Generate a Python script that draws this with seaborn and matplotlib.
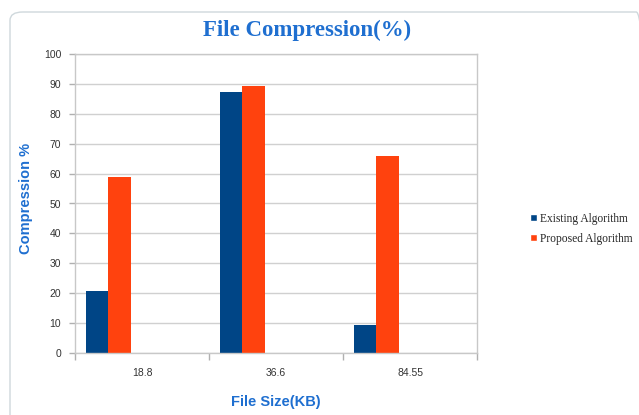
import pandas as pd
import numpy as np
import matplotlib.pyplot as plt
from matplotlib.patches import Patch, FancyBboxPatch
import seaborn as sns

# data
file_sizes = ['18.8', '36.6', '84.55']
existing = [20.9, 87.3, 9.2]
proposed = [58.7, 89.2, 66.0]
series = ['Existing Algorithm', 'Proposed Algorithm', 'S3', 'S4', 'S5']  # empty slots like the original
colors = ['#004586', '#ff420e', '#ffd320', '#579d1c', '#7e0021']

df = pd.DataFrame({
    'size': file_sizes * 2,
    'value': existing + proposed,
    'series': [series[0]] * 3 + [series[1]] * 3,
})

sns.set_style('white')
plt.rcParams['font.family'] = ['Liberation Sans', 'DejaVu Sans']

fig = plt.figure(figsize=(6.39, 4.15), dpi=100)
# light chart frame
fig.patches.append(FancyBboxPatch((10 / 639, -0.05), 1.0, 1.05 - 12 / 415,
                                  boxstyle='round,pad=0,rounding_size=0.02',
                                  transform=fig.transFigure, fill=False,
                                  edgecolor='#cfd8dc', lw=1))
ax = fig.add_axes([75 / 639, 1 - 353 / 415, (477 - 75) / 639, (353 - 54) / 415])

sns.barplot(data=df, x='size', y='value', hue='series', hue_order=series,
            palette=colors, width=0.84, dodge=True, saturation=1, linewidth=0,
            order=file_sizes, ax=ax, legend=False)

ax.set_ylim(0, 100)
ax.set_xlim(-0.5, 2.5)
ax.set_yticks(np.arange(0, 101, 10))
ax.yaxis.grid(True, color='#d0d0d0', lw=1)
ax.set_axisbelow(True)
for s in ax.spines.values():
    s.set_color('#c8c8c8')
    s.set_linewidth(1)

ax.tick_params(axis='y', labelsize=7.5, colors='#333333', length=4, width=1, pad=6,
               left=True, color='#b0b0b0')
ax.tick_params(axis='x', which='major', labelsize=7.5, colors='#333333', length=0, pad=11)
ax.set_xticks([-0.5, 0.5, 1.5, 2.5], minor=True)
ax.tick_params(axis='x', which='minor', length=5, width=1, color='#b0b0b0', bottom=True)

ax.set_xlabel('File Size(KB)', fontsize=10.5, fontweight='bold', color='#1f6fd0')
ax.xaxis.set_label_coords((276 - 75) / 402, -(395 - 353) / 299)
ax.set_ylabel('Compression %', fontsize=10.5, fontweight='bold', color='#1f6fd0')
ax.yaxis.set_label_coords(-(75 - 33) / 402, (353 - 198) / 299)

fig.text(307 / 639, 1 - 30 / 415, 'File Compression(%)', ha='center', va='center',
         fontsize=16.5, fontweight='bold', color='#1f6fd0',
         family=['Liberation Serif', 'DejaVu Serif'])

handles = [Patch(facecolor=colors[0]), Patch(facecolor=colors[1])]
fig.legend(handles, series[:2], loc='center left', bbox_to_anchor=(520 / 639, 1 - 229 / 415),
           frameon=False, handlelength=0.55, handleheight=0.55, handletextpad=0.3,
           labelspacing=0.7, prop={'family': 'Liberation Serif', 'size': 8.3})

fig.savefig('out.png', dpi=100)
